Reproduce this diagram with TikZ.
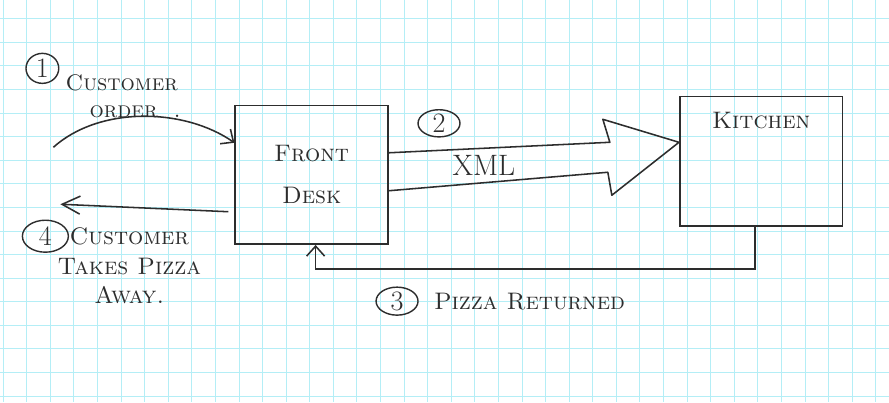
\documentclass[tikz,border=0pt]{standalone}
\usetikzlibrary{positioning, shapes.geometric, arrows.meta, calc}
\definecolor{gridblue}{RGB}{180,238,246}
\definecolor{ink}{RGB}{45,45,45}

\begin{document}
\begin{tikzpicture}[
    x=0.025cm, y=-0.025cm,
    box/.style={draw=ink, line width=1.1pt, minimum width=3.825cm, minimum height=3.475cm, align=center, font=\fontsize{17}{30}\selectfont\scshape, text=ink},
    lbl/.style={align=center, font=\fontsize{17}{21}\selectfont\scshape, text=ink, inner sep=0pt},
    num/.style={draw=ink, line width=1pt, ellipse, inner sep=0pt, minimum width=1.05cm, minimum height=0.7cm, font=\fontsize{20}{20}\selectfont, text=ink},
    arrow/.style={-{Straight Barb[length=2.5mm, width=4.5mm]}, line width=1.1pt, draw=ink},
    flow/.style={line width=1.1pt, draw=ink, line join=round}
]

    % Graph paper
    \fill[white] (0,0) rectangle (889,402);
    \draw[gridblue, line width=0.6pt, shift={(2.7,18.3)}, xstep=0.59cm, ystep=0.59cm] (-2.7,-18.3) grid (886.3,383.7);

    % Boxes
    \node[box] (desk) at (311.5,174.5) {Front\\Desk};
    \node[box, minimum width=4.075cm, minimum height=3.25cm,
          label={[lbl, name=kitchenlbl, anchor=north, label distance=-0.4cm]north:Kitchen}] (kitchen) at (761.5,161) {};

    % Step 1: order comes in
    \node[num, minimum width=0.82cm, minimum height=0.75cm] (n1) at (42,68) {1};
    \node[lbl, align=left, anchor=west, font=\fontsize{16}{19}\selectfont\scshape] (order) at (65,96) {Customer\\\hspace*{0.6cm}order\hspace{0.4cm}.};
    \coordinate (orderin) at (53,147);
    \draw[arrow] (orderin) .. controls (100,105) and (185,108) .. ($(desk.west)+(0,-32)$);

    % Step 2: XML to kitchen
    \node[num, minimum height=0.68cm] (n2) at (439,123) {2};
    \node[lbl, font=\fontsize{21}{21}\selectfont] (xml) at (484,165) {XML};
    \coordinate (xmltip) at ($(kitchen.west)+(0,-19)$);
    \draw[flow] ($(desk.east)+(0,-22)$) -- (610,142) -- (603,119) -- (xmltip)
        -- (612,195) -- (608,172) -- ($(desk.east)+(0,16)$);

    % Step 3: pizza back to the desk
    \draw[arrow] ($(kitchen.south)+(-6,0)$) -- ++(0,42) -| ($(desk.south)+(4,0)$);
    \node[num] (n3) at (397,301) {3};
    \node[lbl, right=0.375cm of n3] (returned) {Pizza Returned};

    % Step 4: customer leaves
    \coordinate (pickup) at (60,204);
    \draw[arrow, -{Straight Barb[length=4.5mm, width=4.5mm]}] ($(desk.west)+(-6,37)$) -- (pickup);
    \node[num, minimum width=1.15cm, minimum height=0.8cm] (n4) at (45,236) {4};
    \node[lbl] (takes) at (129,266) {Customer\\Takes Pizza\\Away.};

\end{tikzpicture}
\end{document}
